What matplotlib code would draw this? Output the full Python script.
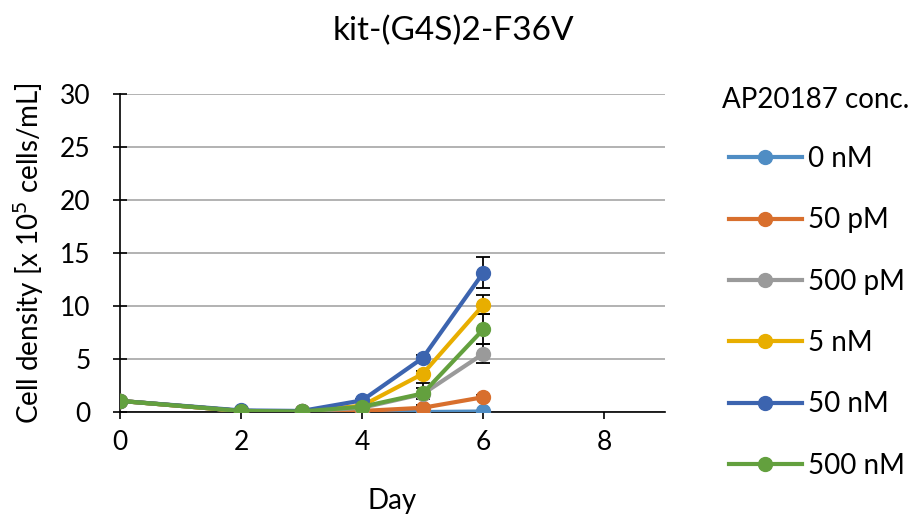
import matplotlib.pyplot as plt
import numpy as np

plt.rcParams['font.family'] = ['Lato', 'DejaVu Sans']

# data
days = [0, 2, 3, 4, 5, 6]
labels = ['0 nM', '50 pM', '500 pM', '5 nM', '50 nM', '500 nM']
colors = ['#4F8DC4', '#D86F2D', '#9A9A9A', '#E8AE00', '#3C64AF', '#63A03E']
conc_0nM = [1.05, 0.1, 0.05, 0.0, 0.0, 0.05]
conc_50pM = [1.05, 0.1, 0.05, 0.1, 0.4, 1.4]
conc_500pM = [1.05, 0.1, 0.05, 0.4, 1.7, 5.5]
conc_5nM = [1.05, 0.1, 0.05, 0.6, 3.6, 10.1]
conc_50nM = [1.05, 0.15, 0.1, 1.1, 5.1, 13.15]
conc_500nM = [1.05, 0.1, 0.05, 0.5, 1.75, 7.8]
err_0nM = [0, 0, 0, 0, 0, 0.05]
err_50pM = [0, 0, 0, 0, 0.1, 0.2]
err_500pM = [0, 0, 0, 0, 1.0, 0.9]
err_5nM = [0, 0, 0, 0, 0.3, 0.9]
err_50nM = [0, 0, 0, 0.1, 0.3, 1.45]
err_500nM = [0, 0, 0, 0.1, 0.5, 1.4]

series = [conc_0nM, conc_50pM, conc_500pM, conc_5nM, conc_50nM, conc_500nM]
errs = [err_0nM, err_50pM, err_500pM, err_5nM, err_50nM, err_500nM]

fig = plt.figure(figsize=(9.21, 5.24), dpi=100)
ax = fig.add_axes([0.1303, 0.2137, 0.5917, 0.6069])

for i in range(len(series)):
    ax.errorbar(days, series[i], yerr=errs[i], fmt='none', ecolor='black',
                elinewidth=1.3, capsize=5, capthick=1.3, zorder=2)
for i in range(len(series)):
    ax.plot(days, series[i], '-o', color=colors[i], lw=3, ms=10,
            label=labels[i], zorder=3 + i)

ax.set_xlim(0, 9)
ax.set_ylim(0, 30)
ax.set_xticks([0, 2, 4, 6, 8])
ax.set_yticks(np.arange(0, 31, 5))
ax.yaxis.grid(True, color='#A6A6A6', lw=1.2)
ax.set_axisbelow(True)
for s in ['top', 'right']:
    ax.spines[s].set_visible(False)
ax.spines['left'].set_linewidth(1.2)
ax.spines['bottom'].set_linewidth(1.2)
ax.tick_params(axis='y', direction='inout', length=10, width=1.2, labelsize=19, pad=16)
ax.tick_params(axis='x', direction='out', length=5, width=1.2, labelsize=19, pad=8)

ax.set_xlabel('Day', fontsize=20, labelpad=24)
ax.set_ylabel('Cell density [x 10$^{5}$ cells/mL]', fontsize=20, labelpad=10)
fig.suptitle('kit-(G4S)2-F36V', fontsize=24, x=0.492, y=0.97)

# legend title drawn separately so the entries can sit indented under it
fig.text(0.784, 0.809, 'AP20187 conc.', fontsize=20, va='center', ha='left')
leg = fig.legend(loc='upper left', bbox_to_anchor=(0.7915, 0.721), frameon=False,
                 fontsize=20, labelspacing=1.27, handlelength=2.63,
                 handletextpad=0.2, borderaxespad=0, borderpad=0)

fig.savefig('out.png', dpi=100)
